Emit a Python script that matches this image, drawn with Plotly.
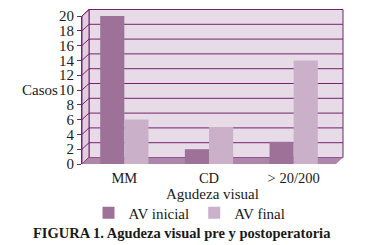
import plotly.graph_objects as go

categories = ["MM", "CD", "> 20/200"]
av_inicial = [20, 2, 3]
av_final = [6, 5, 14]
y_ticks = list(range(0, 21, 2))

W, H = 371, 245
OFF = 8                          # page body margin in the viewer
L, R, T, B = 82, 336, 16, 164   # front plot-area pixels (screen coords)
DX, DY = 7, 6.5                  # 3D depth offset
UNIT = (B - T) / 20.0

WALL = "#e6dbe6"
SIDE = "#ddcfdd"
FLOOR = "#ad86a9"
GRID = "#74246c"
C_INI = "#9e7199"
C_FIN = "#cbb0c9"
FONT = "Liberation Serif"


def px(x):
    return (x - L) / (R - L)


def py(y):
    return (B - y) / (B - T)


shapes = []
# back wall
shapes.append(dict(type="rect", xref="paper", yref="paper", layer="below",
                   x0=px(L + DX), x1=px(R + DX), y0=py(B - DY), y1=py(T - DY),
                   fillcolor=WALL, line=dict(color=GRID, width=1)))
# left wall
shapes.append(dict(type="path", xref="paper", yref="paper", layer="below",
                   path=f"M{px(L)},{py(T)} L{px(L+DX)},{py(T-DY)} L{px(L+DX)},{py(B-DY)} L{px(L)},{py(B)} Z",
                   fillcolor=SIDE, line=dict(color=GRID, width=1)))
# gridlines on walls
for v in y_ticks:
    yb = B - DY - v * UNIT
    yf = B - v * UNIT
    shapes.append(dict(type="line", xref="paper", yref="paper", layer="below",
                       x0=px(L + DX), x1=px(R + DX), y0=py(yb), y1=py(yb),
                       line=dict(color=GRID, width=1)))
    shapes.append(dict(type="line", xref="paper", yref="paper", layer="below",
                       x0=px(L), x1=px(L + DX), y0=py(yf), y1=py(yb),
                       line=dict(color=GRID, width=1)))
# floor
shapes.append(dict(type="path", xref="paper", yref="paper", layer="below",
                   path=f"M{px(L)},{py(B)} L{px(R)},{py(B)} L{px(R+DX)},{py(B-DY)} L{px(L+DX)},{py(B-DY)} Z",
                   fillcolor=FLOOR, line=dict(color=FLOOR, width=0)))

fig = go.Figure()
fig.add_trace(go.Bar(x=categories, y=av_inicial, name="AV inicial",
                     marker=dict(color=C_INI, line=dict(width=0))))
fig.add_trace(go.Bar(x=categories, y=av_final, name="AV final",
                     marker=dict(color=C_FIN, line=dict(width=0))))

fig.update_layout(
    width=W, height=H,
    margin=dict(l=L - OFF, r=W - (R - OFF), t=T - OFF, b=H - (B - OFF), pad=0,
                autoexpand=False),
    paper_bgcolor="white", plot_bgcolor="rgba(0,0,0,0)",
    barmode="group", bargap=0.43, bargroupgap=0,
    font=dict(family=FONT, size=14, color="#1a1a1a"),
    shapes=shapes,
    showlegend=True,
    legend=dict(orientation="h", x=px(189.5), xanchor="center", y=py(213), yanchor="middle",
                font=dict(family=FONT, size=15, color="#1a1a1a"),
                bgcolor="rgba(0,0,0,0)", itemwidth=30, tracegroupgap=0),
    xaxis=dict(showgrid=False, showline=False, zeroline=False, ticks="",
               automargin=False, ticklabelstandoff=3,
               tickfont=dict(family=FONT, size=14.5)),
    yaxis=dict(range=[0, 20], tickvals=y_ticks, showgrid=False, zeroline=False,
               automargin=False,
               showline=True, linecolor=GRID, linewidth=1,
               ticks="outside", ticklen=4, tickcolor=GRID,
               tickfont=dict(family=FONT, size=15)),
    annotations=[
        dict(text="Casos", xref="paper", yref="paper", x=px(39.5), y=py(90),
             xanchor="center", yanchor="middle", showarrow=False,
             font=dict(family=FONT, size=15, color="#1a1a1a")),
        dict(text="Agudeza visual", xref="paper", yref="paper", x=px(212), y=py(194),
             xanchor="center", yanchor="middle", showarrow=False,
             font=dict(family=FONT, size=15, color="#1a1a1a")),
        dict(text="<b>FIGURA 1. Agudeza visual pre y postoperatoria</b>",
             xref="paper", yref="paper", x=px(182), y=py(233),
             xanchor="center", yanchor="middle", showarrow=False,
             font=dict(family=FONT, size=14.5, color="#1a1a1a")),
    ],
)

fig.write_html("out.html")
